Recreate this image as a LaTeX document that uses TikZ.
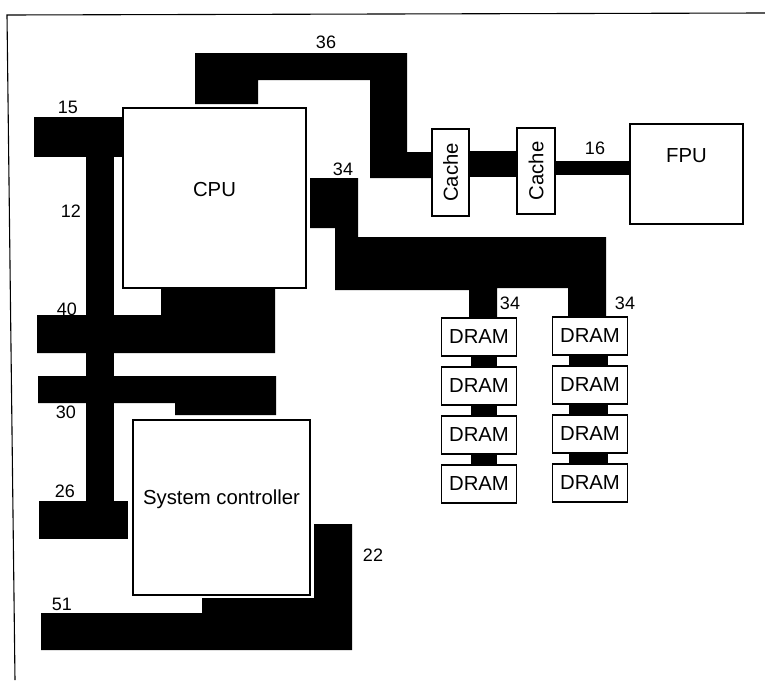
\documentclass[tikz,border=0pt]{standalone}
\usepackage{fontspec}
\setmainfont{Liberation Sans}
\usetikzlibrary{positioning}

\begin{document}
\begin{tikzpicture}[x=1pt, y=-1pt,
    box/.style={draw, line width=1.4pt, fill=white, inner sep=0pt, font=\fontsize{20.3}{24}\selectfont},
    dram/.style={box, minimum width=75pt, minimum height=38pt},
    txt/.style={inner sep=0pt, font=\fontsize{20.3}{24}\selectfont},
    num/.style={inner sep=0pt, font=\fontsize{18}{21}\selectfont},
    bus/.style={fill=black}]
    \useasboundingbox (0,0) rectangle (765,680);
    \draw[line width=1.1pt] (765,13) -- (7,15) -- (15,680);

    % buses
    \fill[bus] (195,53) -- (407,53) -- (407,152) -- (432,152) -- (432,178) -- (370,178)
        -- (370,80) -- (258,80) -- (258,104) -- (195,104) -- cycle;
    \fill[bus] (310,178) -- (358,178) -- (358,237) -- (606,237) -- (606,318) -- (568,318)
        -- (568,288) -- (497,288) -- (497,318) -- (469,318) -- (469,290) -- (335,290)
        -- (335,228) -- (310,228) -- cycle;
    \fill[bus] (34,117) rectangle (124,157);
    \fill[bus] (86,150) rectangle (114,505);
    \fill[bus] (37,315) -- (161,315) -- (161,288) -- (275,288) -- (275,353) -- (37,353) -- cycle;
    \fill[bus] (38,376) -- (276,376) -- (276,415) -- (175,415) -- (175,403) -- (38,403) -- cycle;
    \fill[bus] (39,501) rectangle (128,539);
    \fill[bus] (314,524) -- (352,524) -- (352,650) -- (41,650) -- (41,613) -- (202,613)
        -- (202,598) -- (314,598) -- cycle;

    \node[box, minimum width=183pt, minimum height=180pt] (cpu) at (214.5,198) {};
    \node[txt] (cpu-t) at ([yshift=8pt]cpu.center) {CPU};
    \node[box, minimum width=177pt, minimum height=175pt] (sysc) at (221.5,507.5) {};
    \node[txt] (sysc-t) at ([yshift=8.5pt]sysc.center) {System controller};
    \node[box, minimum width=37pt, minimum height=87pt] (cacheA) at (450.5,172.5) {\rotatebox{90}{Cache}};
    \node[box, minimum width=38pt, minimum height=86pt] (cacheB) at (536,171) {\rotatebox{90}{Cache}};
    \node[box, minimum width=113pt, minimum height=100pt] (fpu) at (686.5,174) {};
    \node[txt] (fpu-t) at ([yshift=18pt]fpu.center) {FPU};

    \fill[bus] ([yshift=21.5pt]cacheA.east) rectangle ([yshift=-6pt]cacheB.west);
    \fill[bus] ([yshift=10pt]cacheB.east) rectangle ([yshift=-1pt]fpu.west);

    \foreach \i/\y in {1/337,2/386,3/435,4/484} {
        \node[dram] (dl\i) at (479,\y) {DRAM};
        \node[dram] (dr\i) at (590,\y-1) {DRAM};
    }
    \foreach \i/\j in {1/2,2/3,3/4} {
        \fill[bus] ([xshift=-8pt]dl\i.south) rectangle ([xshift=18pt]dl\j.north);
        \fill[bus] ([xshift=-21pt]dr\i.south) rectangle ([xshift=18pt]dr\j.north);
    }

    % widths
    \node[num] (n36) at (326,42) {36};
    \node[num] (n15) at (68,107) {15};
    \node[num] (n12) at (71,211) {12};
    \node[num] (n40) at (67,309) {40};
    \node[num] (n30) at (66,412) {30};
    \node[num] (n26) at (65,491) {26};
    \node[num] (n51) at (62,604) {51};
    \node[num] (n22) at (373,555) {22};
    \node[num] (n34) at (343,169) {34};
    \node[num] (n16) at (595,148) {16};
    \node[num] (n34l) at (510,303) {34};
    \node[num] (n34r) at (625,303) {34};
\end{tikzpicture}
\end{document}
